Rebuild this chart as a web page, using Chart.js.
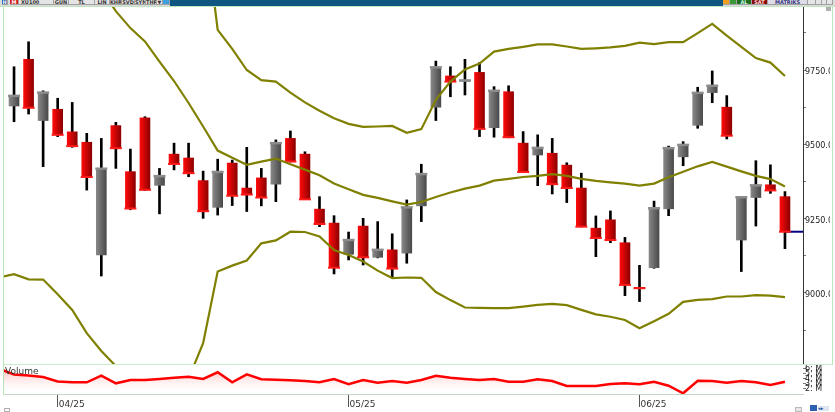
<!DOCTYPE html>
<html><head><meta charset="utf-8">
<script src="https://cdn.jsdelivr.net/npm/chart.js@4.4.1/dist/chart.umd.min.js"></script>
<style>
html,body{margin:0;padding:0;background:#fff;width:835px;height:412px;overflow:hidden;font-family:"DejaVu Sans",sans-serif;}
.a{position:absolute;}
.b{position:absolute;top:0;height:5px;box-sizing:border-box;border:1px solid #a0a0a0;border-width:0 1px 1px 0;font:bold 5px/5px "DejaVu Sans",sans-serif;color:#333;text-align:center;overflow:hidden;background:#e4e4e4;white-space:nowrap;}
</style></head><body>
<div class="a" style="left:0;top:0;width:835px;height:6px;background:#dcdcdc;"></div>
<div class="b" style="left:2px;width:6px;background:#2050a0;color:#fff;">H</div>
<div class="b" style="left:10px;width:9px;background:#d42020;color:#fff;">M</div>
<div class="b" style="left:19px;width:35px;text-align:left;padding-left:2px;">XU100</div>
<div class="b" style="left:54px;width:15px;">GUN</div>
<div class="b" style="left:69px;width:26px;">TL</div>
<div class="b" style="left:95px;width:15px;">LIN</div>
<div class="b" style="left:110px;width:12px;">KHR</div>
<div class="b" style="left:122px;width:13px;">SVD</div>
<div class="b" style="left:135px;width:11px;">SYM</div>
<div class="b" style="left:146px;width:11px;">THP</div>
<div class="b" style="left:157px;width:6px;">▼</div>
<div class="b" style="left:163px;width:7px;background:#3d9fe0;"></div>
<div class="a" style="left:170px;top:0;width:553px;height:6px;background:#0f5683;"></div>
<div class="b" style="left:723px;width:7px;background:#f0a020;"></div>
<div class="b" style="left:730px;width:7px;background:#3a9a3a;"></div>
<div class="b" style="left:737px;width:15px;background:#1d6b1d;color:#cfe;">AL</div>
<div class="b" style="left:752px;width:16px;background:#8a0c0c;color:#fdd;">SAT</div>
<div class="b" style="left:768px;width:40px;background:#dcdcea;color:#34347a;">MATRIKS</div>
<div class="b" style="left:808px;width:8px;"></div>
<div class="b" style="left:816px;width:6px;"></div>
<div class="b" style="left:822px;width:5px;"></div>
<div class="b" style="left:827px;width:6px;"></div>
<div class="a" style="left:0;top:6px;width:835px;height:1px;background:#bfe6bf;"></div>

<canvas id="main" width="826" height="357" style="position:absolute;left:4px;top:7px"></canvas>
<canvas id="vol" width="826" height="48" style="position:absolute;left:4px;top:364px"></canvas>

<div class="a" style="left:3px;top:7px;width:1px;height:388px;background:#b8e6b8;"></div>
<div class="a" style="left:832px;top:7px;width:1px;height:358px;background:#b8e6b8;"></div>
<div class="a" style="left:4px;top:364px;width:828px;height:1px;background:#c8ecc8;"></div>
<div class="a" style="left:826px;top:7px;width:5px;height:4px;background:#b0b0b0;"></div>
<div class="a" style="left:5px;top:367px;font:9px/9px 'DejaVu Sans',sans-serif;color:#333;">Volume</div>
<div class="a" style="left:4px;top:408px;width:6px;height:4px;border:1px solid #b0b0b0;box-sizing:border-box;"></div>
<div class="a" style="left:795px;top:407px;width:7px;height:5px;background:#e6e6e6;border:1px solid #bbb;box-sizing:border-box;"></div>
<div class="a" style="left:810px;top:405px;width:7px;height:6px;background:#2f5fb0;"></div>
<div class="a" style="left:818px;top:406px;width:11px;height:5px;background:#dde4f2;color:#2050a0;font:5px/5px sans-serif;">◂▸</div>

<script>
// ---- data ----
const xTickIdx    = [3, 23, 43];
const xTickLabels = ['04/25', '05/25', '06/25'];

const openP  = [9629,9786,9580,9618,9542,9507,9128,9563,9408,9589,9362,9467,9454,9378,9288,9437,9353,9387,9366,9520,9467,9282,9235,9130,9225,9120,9145,9134,9293,9625,9730,9712,9742,9556,9677,9504,9464,9470,9430,9353,9218,9246,9169,9019,9085,9283,9458,9564,9674,9625,9178,9321,9364,9324];
const highP  = [9761,9845,9680,9655,9641,9537,9520,9574,9484,9593,9419,9504,9504,9410,9450,9447,9490,9419,9515,9545,9475,9324,9260,9205,9251,9240,9199,9313,9433,9780,9761,9786,9775,9694,9697,9543,9532,9520,9438,9403,9259,9276,9187,9093,9309,9494,9509,9692,9747,9664,9324,9445,9431,9341];
const lowP   = [9576,9602,9425,9526,9490,9346,9057,9419,9280,9345,9266,9414,9391,9251,9262,9294,9274,9293,9307,9441,9315,9223,9064,9111,9094,9118,9053,9100,9240,9580,9660,9666,9526,9524,9522,9405,9361,9333,9304,9222,9122,9169,8991,8971,9083,9260,9428,9554,9640,9518,9072,9225,9335,9149];
const closeP = [9663,9623,9674,9532,9494,9390,9418,9487,9284,9347,9393,9434,9403,9275,9407,9327,9331,9321,9504,9442,9315,9232,9085,9178,9120,9145,9082,9288,9400,9759,9711,9715,9552,9680,9524,9407,9488,9366,9353,9223,9185,9178,9027,9016,9285,9487,9498,9673,9697,9529,9322,9362,9345,9206];

const bandUpper = [null,null,null,null,null,null,null,null,null,null,null,null,null,10280,9885,9821,9750,9716,9711,9674,9641,9613,9588,9569,9559,9560,9562,9539,9551,9650,9711,9752,9772,9812,9821,9828,9836,9836,9829,9821,9823,9826,9831,9842,9837,9844,9844,9874,9905,9866,9828,9790,9775,9730];
const bandMid   = [null,null,null,null,null,null,10019,9948,9891,9846,9778,9713,9639,9560,9479,9455,9431,9442,9452,9433,9415,9396,9368,9349,9330,9320,9308,9297,9306,9323,9338,9351,9361,9378,9384,9390,9394,9400,9394,9384,9377,9372,9368,9361,9368,9389,9408,9426,9441,9425,9409,9394,9383,9358];
const bandLowerPrev = 9052;
const bandLower = [9063,9046,9045,8996,8943,8865,8805,8754,8690,8640,8620,8640,8712,8831,9072,9092,9109,9167,9177,9206,9205,9190,9144,9128,9106,9075,9050,9052,9051,9003,8976,8951,8950,8949,8949,8954,8960,8963,8959,8943,8928,8920,8909,8881,8905,8930,8970,8977,8979,8988,8988,8993,8991,8986];

const volumePrev = 6.0;
const volume = [4.88,4.67,4.37,3.45,3.29,3.29,4.63,3.08,3.76,3.76,3.96,4.22,4.41,3.96,5.33,3.29,4.92,3.90,3.82,3.69,3.55,3.29,3.96,2.88,3.76,3.20,3.55,3.20,3.76,4.63,4.22,3.96,3.76,3.96,3.41,3.41,3.90,3.55,2.53,2.53,2.53,2.94,3.08,2.88,3.41,2.59,1.04,3.61,3.55,3.20,3.55,3.29,2.73,3.41];

const yTicks      = [8875, 9000, 9125, 9250, 9375, 9500, 9625, 9750, 9875];
const yMajor      = [9000, 9250, 9500, 9750];
const yTickLabels = ['9000.00', '9250.00', '9500.00', '9750.00'];
const volTicks      = [2, 3, 4, 5, 6];
const volTickLabels = ['2: M', '3: M', '4: M', '5: M', '6: M'];

// ---- view ----
const X_MIN = -0.69, X_MAX = 54.24;
const Y_MIN = 8761, Y_MAX = 9962;
const idx = closeP.map((_, i) => i);
const isUp = i => closeP[i] >= openP[i];
const FONT = 'DejaVu Sans';

function bodyGradient(ctx) {
  const chart = ctx.chart, i = ctx.dataIndex, up = isUp(i);
  if (!chart.chartArea || !chart.scales.x) return up ? '#666' : '#d00';
  const px = chart.scales.x.getPixelForValue(i);
  const g = chart.ctx.createLinearGradient(px - 5, 0, px + 5, 0);
  if (up) { g.addColorStop(0, '#878787'); g.addColorStop(1, '#4a4a4a'); }
  else { g.addColorStop(0, '#ff0a0a'); g.addColorStop(1, '#8e0000'); }
  return g;
}

const bandDs = (arr, prev) => ({
  type: 'line',
  data: (prev !== undefined ? [{x: -1, y: prev}] : []).concat(idx.map(i => ({x: i, y: arr[i]}))),
  borderColor: '#808000', borderWidth: 2.2, pointRadius: 0, tension: 0, spanGaps: false, order: 1, clip: 0
});

new Chart(document.getElementById('main'), {
  type: 'bar',
  data: { datasets: [
    { type: 'line', data: [{x: idx.length - 1, y: closeP[idx.length - 1]}, {x: X_MAX, y: closeP[idx.length - 1]}],
      borderColor: '#000080', borderWidth: 2, pointRadius: 0, order: 6, clip: 0 },
    { type: 'bar', data: idx.map(i => ({x: i, y: [lowP[i], highP[i]]})), backgroundColor: '#000',
      barThickness: 2, grouped: false, borderWidth: 0, order: 5 },
    { type: 'bar', data: idx.map(i => ({x: i, y: [openP[i], closeP[i]]})), backgroundColor: bodyGradient,
      barThickness: 10, grouped: false, borderWidth: 0, order: 4 },
    { type: 'line', showLine: false, data: idx.map(i => ({x: i, y: closeP[i]})), pointStyle: 'line',
      pointRadius: 6, pointBorderWidth: c => isUp(c.dataIndex) ? 2.5 : 2,
      pointBorderColor: c => isUp(c.dataIndex) ? '#8c8c8c' : '#ff1a1a', order: 3 },
    bandDs(bandUpper), bandDs(bandMid), bandDs(bandLower, bandLowerPrev)
  ]},
  options: {
    responsive: false, animation: false, events: [],
    layout: { padding: 0, autoPadding: false },
    plugins: { legend: { display: false }, tooltip: { enabled: false } },
    scales: {
      x: { type: 'linear', min: X_MIN, max: X_MAX, offset: false, display: false },
      y: { position: 'right', min: Y_MIN, max: Y_MAX,
        afterFit: s => { s.width = 27; s.paddingTop = 0; s.paddingBottom = 0; },
        afterBuildTicks: s => { s.ticks = yTicks.map(v => ({value: v})); },
        ticks: { autoSkip: false, padding: -1, labelOffset: 2, color: '#222', font: { family: FONT, size: 8 },
          callback: v => { const k = yMajor.indexOf(v); return k >= 0 ? yTickLabels[k] : ''; } },
        grid: { drawOnChartArea: false, drawTicks: true, tickLength: 3, color: '#777' },
        border: { display: true, color: '#333', width: 1 } }
    }
  }
});

function volFill(ctx) {
  const a = ctx.chart.chartArea;
  if (!a) return 'rgba(255,0,0,0.2)';
  const g = ctx.chart.ctx.createLinearGradient(0, a.top, 0, a.bottom);
  g.addColorStop(0, 'rgba(255,40,40,0.45)');
  g.addColorStop(1, 'rgba(255,255,255,0)');
  return g;
}

new Chart(document.getElementById('vol'), {
  type: 'line',
  data: { datasets: [{
    data: [{x: -1, y: volumePrev}].concat(idx.map(i => ({x: i, y: volume[i]}))),
    borderColor: '#ff0000', borderWidth: 2.5, pointRadius: 0, tension: 0,
    fill: 'start', backgroundColor: volFill, clip: 0
  }]},
  options: {
    responsive: false, animation: false, events: [],
    layout: { padding: 0, autoPadding: false },
    plugins: { legend: { display: false }, tooltip: { enabled: false } },
    scales: {
      x: { type: 'linear', min: X_MIN, max: X_MAX, offset: false,
        afterFit: s => { s.height = 18; s.paddingLeft = 0; s.paddingRight = 0; },
        afterBuildTicks: s => { s.ticks = xTickIdx.map(v => ({value: v})); },
        ticks: { autoSkip: false, maxRotation: 0, minRotation: 0, align: 'start', padding: -8, labelOffset: 1,
          color: '#333', font: { family: FONT, size: 9 },
          callback: v => { const k = xTickIdx.indexOf(v); return k >= 0 ? xTickLabels[k] : ''; } },
        grid: { drawOnChartArea: false, drawTicks: true, tickLength: 13, color: '#555' },
        border: { display: true, color: '#c6d6c6' } },
      y: { position: 'right', min: 0.9, max: 7.02,
        afterFit: s => { s.width = 27; s.paddingTop = 0; s.paddingBottom = 0; },
        afterBuildTicks: s => { s.ticks = volTicks.map(v => ({value: v})); },
        ticks: { autoSkip: false, padding: -1, color: '#222', font: { family: FONT, size: 8 },
          callback: v => { const k = volTicks.indexOf(v); return k >= 0 ? volTickLabels[k] : ''; } },
        grid: { drawOnChartArea: false, drawTicks: true, tickLength: 3, color: '#777' },
        border: { display: false } }
    }
  }
});
</script>
</body></html>
